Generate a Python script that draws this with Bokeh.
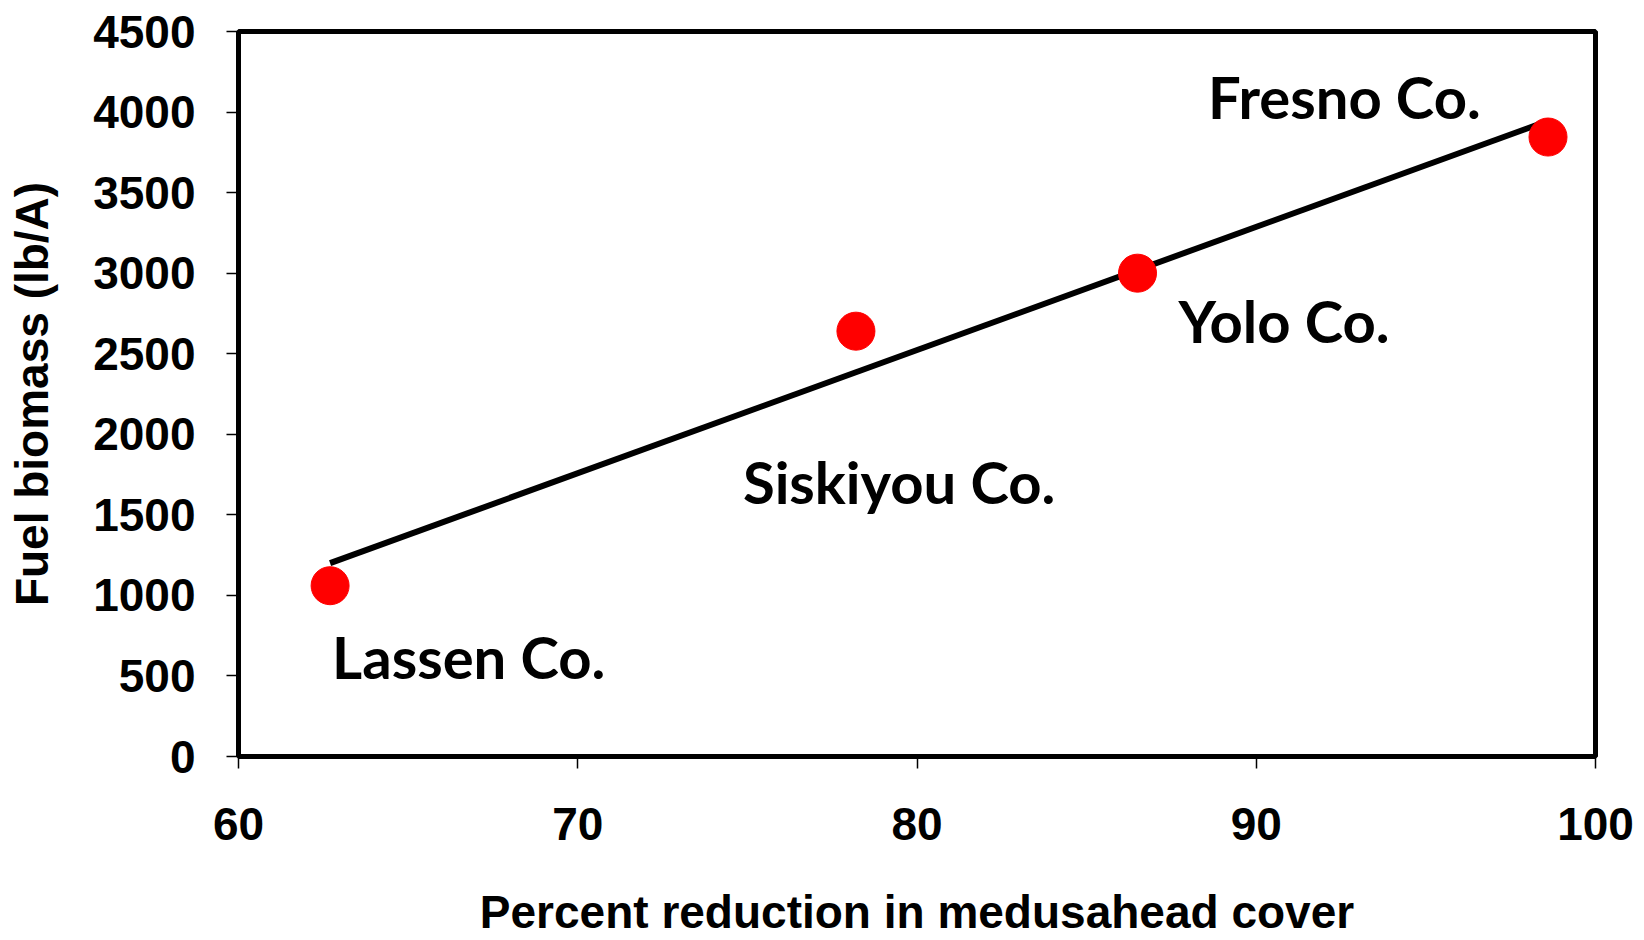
from bokeh.plotting import figure
from bokeh.models import Range1d, FixedTicker, ColumnDataSource
from bokeh.core.properties import value
from bokeh.embed import file_html
from bokeh.resources import INLINE

# data
sites = ["Lassen Co.", "Siskiyou Co.", "Yolo Co.", "Fresno Co."]
reduction = [62.7, 78.2, 86.5, 98.6]
biomass = [1060, 2640, 3000, 3845]
trend_x = [62.7, 98.6]
trend_y = [1200, 3945]
x_ticks = [60, 70, 80, 90, 100]
y_ticks = [0, 500, 1000, 1500, 2000, 2500, 3000, 3500, 4000, 4500]
x_title = "Percent reduction in medusahead cover"
y_title = "Fuel biomass (lb/A)"

# label offsets (pixels, screen direction) relative to each point
label_dx = [2, -113, 41, -340]
label_dy = [71, 150, 47, -41]

p = figure(width=1636, height=940, output_backend="svg", toolbar_location=None,
           x_range=Range1d(x_ticks[0], x_ticks[-1]), y_range=Range1d(y_ticks[0], y_ticks[-1]),
           min_border_left=238, min_border_right=41, min_border_top=31, min_border_bottom=183)
p.xgrid.visible = False
p.ygrid.visible = False
p.outline_line_color = "black"
p.outline_line_width = 5
p.background_fill_color = "white"
p.border_fill_color = "white"

for ax in (p.xaxis[0], p.yaxis[0]):
    ax.axis_line_color = "black"
    ax.axis_line_width = 5
    ax.major_tick_line_color = "black"
    ax.major_tick_line_width = 1.5
    ax.major_tick_out = 12
    ax.major_tick_in = 0
    ax.minor_tick_line_color = None
    ax.major_label_text_font = "Liberation Sans"
    ax.major_label_text_font_style = "bold"
    ax.major_label_text_font_size = "46px"
    ax.major_label_text_color = "black"
    ax.axis_label_text_font = "Liberation Sans"
    ax.axis_label_text_font_style = "bold"
    ax.axis_label_text_font_size = "46px"
    ax.axis_label_text_color = "black"

p.xaxis.ticker = FixedTicker(ticks=x_ticks)
p.yaxis.ticker = FixedTicker(ticks=y_ticks)
p.xaxis.axis_label = x_title
p.yaxis.axis_label = y_title
p.xaxis.major_label_standoff = 39
p.xaxis.axis_label_standoff = 43
p.yaxis.major_label_standoff = 31
p.yaxis.axis_label_standoff = 32

p.line(trend_x, trend_y, line_color="black", line_width=6)
p.scatter(reduction, biomass, size=38, fill_color="#FF0000", line_color="#FF0000")

src = ColumnDataSource(dict(x=reduction, y=biomass, t=sites, dx=label_dx, dy=label_dy))
p.text(x="x", y="y", text="t", x_offset="dx", y_offset="dy", source=src,
       text_font=value("Lato"), text_font_style="bold", text_font_size="58px",
       text_color="black", text_align="left", text_baseline="alphabetic")

open("out.html", "w").write(file_html(p, INLINE))
